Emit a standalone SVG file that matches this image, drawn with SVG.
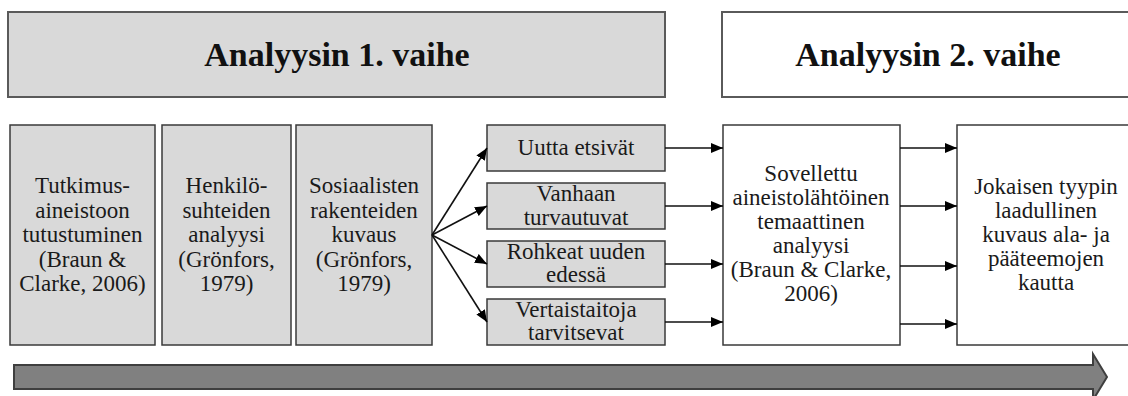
<svg xmlns="http://www.w3.org/2000/svg" width="1128" height="396" viewBox="0 0 1128 396">
<style>
.lbl{font-family:"Liberation Serif","DejaVu Serif",serif;font-size:23px;fill:#1a1a1a;text-anchor:middle}
.hd{font-family:"Liberation Serif","DejaVu Serif",serif;font-size:34px;font-weight:bold;fill:#111;text-anchor:middle}
.g{fill:#d9d9d9;stroke:#3a3a3a;stroke-width:1.5}
.w{fill:#fff;stroke:#3a3a3a;stroke-width:1.5}
.tg{fill:#d9d9d9;stroke:#5a5a5a;stroke-width:2}
.tw{fill:#fff;stroke:#5a5a5a;stroke-width:2}
.c{stroke:#111;stroke-width:1.6;fill:none;marker-end:url(#ah)}
</style>
<defs>
<marker id="ah" viewBox="0 0 12 10" refX="12" refY="5" markerWidth="12" markerHeight="10" markerUnits="userSpaceOnUse" orient="auto">
<path d="M0,0 L12,5 L0,10 Z" fill="#000"/>
</marker>
</defs>
<rect width="1128" height="396" fill="#fff"/>
<g id="phase1"><rect class="tg" x="8" y="12" width="657" height="85"/><text class="hd" x="337" y="66">Analyysin 1. vaihe</text></g>
<g id="phase2"><rect class="tw" x="722" y="12" width="412" height="85"/><text class="hd" x="928" y="66">Analyysin 2. vaihe</text></g>
<g id="n1"><rect class="g" x="10" y="125" width="145" height="220"/>
<text class="lbl" x="82.5" y="193">Tutkimus-</text><text class="lbl" x="82.5" y="217.5">aineistoon</text><text class="lbl" x="82.5" y="242">tutustuminen</text><text class="lbl" x="82.5" y="266.5">(Braun &amp;</text><text class="lbl" x="82.5" y="291">Clarke, 2006)</text></g>
<g id="n2"><rect class="g" x="162" y="125" width="129" height="220"/>
<text class="lbl" x="226.5" y="193">Henkilö-</text><text class="lbl" x="226.5" y="217.5">suhteiden</text><text class="lbl" x="226.5" y="242">analyysi</text><text class="lbl" x="226.5" y="266.5">(Grönfors,</text><text class="lbl" x="226.5" y="291">1979)</text></g>
<g id="n3"><rect class="g" x="296" y="125" width="136" height="220"/>
<text class="lbl" x="364" y="193">Sosiaalisten</text><text class="lbl" x="364" y="217.5">rakenteiden</text><text class="lbl" x="364" y="242">kuvaus</text><text class="lbl" x="364" y="266.5">(Grönfors,</text><text class="lbl" x="364" y="291">1979)</text></g>
<g id="t1"><rect class="g" x="487" y="125" width="178" height="46"/><text class="lbl" x="576" y="155">Uutta etsivät</text></g>
<g id="t2"><rect class="g" x="487" y="183" width="178" height="46"/><text class="lbl" x="576" y="201">Vanhaan</text><text class="lbl" x="576" y="225">turvautuvat</text></g>
<g id="t3"><rect class="g" x="487" y="241" width="178" height="46"/><text class="lbl" x="576" y="259">Rohkeat uuden</text><text class="lbl" x="576" y="282">edessä</text></g>
<g id="t4"><rect class="g" x="487" y="299" width="178" height="46"/><text class="lbl" x="576" y="317">Vertaistaitoja</text><text class="lbl" x="576" y="340">tarvitsevat</text></g>
<g id="n4"><rect class="w" x="723" y="125" width="177" height="220"/>
<text class="lbl" x="811" y="181">Sovellettu</text><text class="lbl" x="811" y="205">aineistolähtöinen</text><text class="lbl" x="811" y="229">temaattinen</text><text class="lbl" x="811" y="253">analyysi</text><text class="lbl" x="811" y="277">(Braun &amp; Clarke,</text><text class="lbl" x="811" y="301">2006)</text></g>
<g id="n5"><rect class="w" x="957" y="125" width="178" height="220"/>
<text class="lbl" x="1046" y="194">Jokaisen tyypin</text><text class="lbl" x="1046" y="218">laadullinen</text><text class="lbl" x="1046" y="242">kuvaus ala- ja</text><text class="lbl" x="1046" y="266">pääteemojen</text><text class="lbl" x="1046" y="290">kautta</text></g>
<g id="connectors">
<line class="c" x1="432" y1="235" x2="487" y2="148"/>
<line class="c" x1="432" y1="235" x2="487" y2="206"/>
<line class="c" x1="432" y1="235" x2="487" y2="264"/>
<line class="c" x1="432" y1="235" x2="487" y2="322"/>
<line class="c" x1="665" y1="148" x2="723" y2="148"/>
<line class="c" x1="665" y1="206" x2="723" y2="206"/>
<line class="c" x1="665" y1="264" x2="723" y2="264"/>
<line class="c" x1="665" y1="322" x2="723" y2="322"/>
<line class="c" x1="900" y1="148" x2="957" y2="148"/>
<line class="c" x1="900" y1="206" x2="957" y2="206"/>
<line class="c" x1="900" y1="266" x2="957" y2="266"/>
<line class="c" x1="900" y1="324" x2="957" y2="324"/>
</g>
<g id="timeline"><polygon points="14,365 1093,365 1093,354 1107,377 1093,400 1093,389 14,389" fill="#808080" stroke="#3f3f3f" stroke-width="2"/></g>
</svg>
